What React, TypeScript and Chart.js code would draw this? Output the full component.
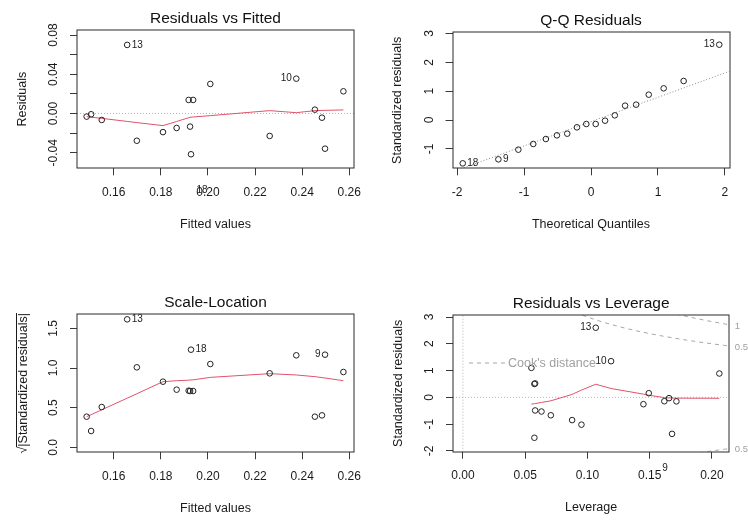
import React, { useEffect, useRef } from 'react';
import { Chart, registerables } from 'chart.js';

Chart.register(...registerables);

const FONT = '"Liberation Sans", Arimo, Arial, sans-serif';
const W = 748;
const H = 522;
const TEXT = '#1a1a1a';
const POINT = '#222222';
const RED = '#DF536B';
const LIGHT_GREY = '#b4b4b4';
const QQ_GREY = '#8c8c8c';
const COOK_GREY = '#a6a6a6';

// ---- observations (ordered by fitted value) ----
const fittedValues = [0.1485, 0.1504, 0.1549, 0.1657, 0.1698, 0.1809, 0.1867, 0.1918, 0.1924, 0.1928, 0.1937, 0.2010, 0.2262, 0.2375, 0.2454, 0.2484, 0.2497, 0.2575];
const residualValues = [-0.0032, -0.0008, -0.0066, 0.0699, -0.0278, -0.0190, -0.0148, 0.0138, -0.0134, -0.0416, 0.0138, 0.0301, -0.0229, 0.0355, 0.0039, -0.0043, -0.0359, 0.0226];
const stdResiduals = [-0.145, -0.03, -0.256, 2.60, -1.02, -0.67, -0.53, 0.50, -0.49, -1.51, 0.52, 1.10, -0.85, 1.35, 0.155, -0.15, -1.364, 0.89];
const sqrtAbsStdResiduals = [0.3865, 0.206, 0.508, 1.6135, 1.0085, 0.8277, 0.7269, 0.714, 0.710, 1.231, 0.710, 1.050, 0.9328, 1.160, 0.3865, 0.403, 1.168, 0.9496];
const leverageValues = [0.1618, 0.1656, 0.1450, 0.1067, 0.0952, 0.0706, 0.0631, 0.0574, 0.0580, 0.0574, 0.0580, 0.0550, 0.0877, 0.1190, 0.1493, 0.1715, 0.1680, 0.2060];
const obsIds = ['', '', '', '13', '', '', '', '', '', '18', '', '', '', '10', '', '', '9', ''];

// ---- smoother (red) lines ----
const smoothResidualsVsFitted = [-0.0032, -0.0038, -0.0050, -0.0081, -0.0093, -0.0124, -0.0082, -0.0043, -0.0039, -0.0038, -0.0036, -0.0022, 0.0029, 0.0008, 0.0029, 0.0031, 0.0032, 0.0036];
const smoothScaleLocation = [0.3865, 0.4115, 0.4732, 0.6196, 0.6755, 0.8277, 0.840, 0.846, 0.848, 0.849, 0.851, 0.882, 0.9286, 0.912, 0.891, 0.879, 0.874, 0.840];
const leverageSorted = [0.0550, 0.0574, 0.0574, 0.0580, 0.0580, 0.0631, 0.0706, 0.0877, 0.0952, 0.1067, 0.1190, 0.1450, 0.1493, 0.1618, 0.1656, 0.1680, 0.1715, 0.2060];
const smoothLeverage = [-0.25, -0.24, -0.24, -0.235, -0.235, -0.19, -0.13, 0.11, 0.27, 0.49, 0.33, 0.12, 0.08, -0.01, -0.02, -0.025, -0.03, -0.035];

// ---- Q-Q ----
const qqTheoretical = [-1.915, -1.383, -1.085, -0.862, -0.674, -0.509, -0.355, -0.210, -0.070, 0.070, 0.210, 0.355, 0.509, 0.674, 0.862, 1.085, 1.383, 1.915];
const qqSample = [-1.503, -1.364, -1.029, -0.832, -0.659, -0.532, -0.474, -0.254, -0.139, -0.139, -0.023, 0.162, 0.497, 0.532, 0.879, 1.098, 1.353, 2.613];
const qqIds = ['18', '9', '', '', '', '', '', '', '', '', '', '', '', '', '', '', '', '13'];
const qqLineX = [-2.068, 2.068];
const qqLineY = [-1.80, 1.69];

// ---- Cook's distance contours ----
const cookHalfUpperX = [0.090, 0.095, 0.100, 0.105, 0.110, 0.120, 0.130, 0.140, 0.150, 0.160, 0.170, 0.180, 0.190, 0.200, 0.210, 0.216];
const cookHalfUpperY = [3.180, 3.086, 3.000, 2.920, 2.844, 2.708, 2.587, 2.478, 2.380, 2.291, 2.210, 2.134, 2.065, 2.000, 1.940, 1.905];
const cookOneUpperX = [0.165, 0.170, 0.175, 0.180, 0.190, 0.200, 0.210, 0.216];
const cookOneUpperY = [3.181, 3.125, 3.071, 3.018, 2.920, 2.828, 2.743, 2.694];
const cookHalfLowerX = [0.190, 0.195, 0.200, 0.205, 0.210, 0.216];
const cookHalfLowerY = [-2.065, -2.032, -2.000, -1.969, -1.940, -1.905];

// ---- axes ----
const fittedRange: [number, number] = [0.1444, 0.2620];
const fittedTicks = [0.16, 0.18, 0.20, 0.22, 0.24, 0.26];
const fittedTickLabels = ['0.16', '0.18', '0.20', '0.22', '0.24', '0.26'];
const residRange: [number, number] = [-0.0559, 0.0851];
const residTicks = [-0.04, -0.02, 0, 0.02, 0.04, 0.06, 0.08];
const residTickLabels = ['-0.04', '', '0.00', '', '0.04', '', '0.08'];
const qqXRange: [number, number] = [-2.068, 2.068];
const qqXTicks = [-2, -1, 0, 1, 2];
const qqXTickLabels = ['-2', '-1', '0', '1', '2'];
const qqYRange: [number, number] = [-1.675, 3.042];
const qqYTicks = [-1, 0, 1, 2, 3];
const qqYTickLabels = ['-1', '0', '1', '2', '3'];
const slYRange: [number, number] = [-0.0627, 1.677];
const slYTicks = [0, 0.5, 1.0, 1.5];
const slYTickLabels = ['0.0', '0.5', '1.0', '1.5'];
const levXRange: [number, number] = [-0.008, 0.214];
const levXTicks = [0, 0.05, 0.10, 0.15, 0.20];
const levXTickLabels = ['0.00', '0.05', '0.10', '0.15', '0.20'];
const levYRange: [number, number] = [-2.03, 3.075];
const levYTicks = [-2, -1, 0, 1, 2, 3];
const levYTickLabels = ['-2', '-1', '0', '1', '2', '3'];

type Box = { left: number; top: number; right: number; bottom: number };
type IdLabel = { text: string; x: number; y: number; side: 'left' | 'right' | 'center' };
type PanelSpec = {
  box: Box;
  xRange: [number, number];
  yRange: [number, number];
  xTicks: number[];
  xTickLabels: string[];
  yTicks: number[];
  yTickLabels: string[];
  title: string;
  xTitle: string;
  yTitle: string;
  sqrtTitle?: boolean;
  datasets: any[];
  idLabels: IdLabel[];
  extra?: (chart: any) => void;
};

const pts = (xs: number[], ys: number[]) => xs.map((x, i) => ({ x, y: ys[i] }));

const pointsDS = (xs: number[], ys: number[]) => ({
  data: pts(xs, ys),
  showLine: false,
  pointRadius: 2.8,
  pointHoverRadius: 2.8,
  pointBorderWidth: 1,
  pointBorderColor: POINT,
  pointBackgroundColor: 'rgba(0,0,0,0)',
});

const lineDS = (xs: number[], ys: number[], color: string, dash: number[] = []) => ({
  data: pts(xs, ys),
  showLine: true,
  pointRadius: 0,
  pointHoverRadius: 0,
  borderColor: color,
  borderWidth: 1,
  borderDash: dash,
  fill: false,
  tension: 0,
});

const labelsFrom = (ids: string[], xs: number[], ys: number[], sides: Record<string, 'left' | 'right'>): IdLabel[] =>
  ids
    .map((t, i) => ({ t, i }))
    .filter((o) => o.t && sides[o.t])
    .map((o) => ({ text: o.t, x: xs[o.i], y: ys[o.i], side: sides[o.t] }));

const panels: PanelSpec[] = [
  {
    box: { left: 77, top: 30, right: 354, bottom: 168.3 },
    xRange: fittedRange,
    yRange: residRange,
    xTicks: fittedTicks,
    xTickLabels: fittedTickLabels,
    yTicks: residTicks,
    yTickLabels: residTickLabels,
    title: 'Residuals vs Fitted',
    xTitle: 'Fitted values',
    yTitle: 'Residuals',
    datasets: [
      pointsDS(fittedValues, residualValues),
      lineDS(fittedValues, smoothResidualsVsFitted, RED),
      lineDS(fittedRange, [0, 0], LIGHT_GREY, [1, 2]),
    ],
    idLabels: [
      ...labelsFrom(obsIds, fittedValues, residualValues, { '13': 'right', '10': 'left' }),
      { text: '18', x: 0.1975, y: -0.078, side: 'center' },
    ],
  },
  {
    box: { left: 452.5, top: 32.3, right: 729.5, bottom: 168.3 },
    xRange: qqXRange,
    yRange: qqYRange,
    xTicks: qqXTicks,
    xTickLabels: qqXTickLabels,
    yTicks: qqYTicks,
    yTickLabels: qqYTickLabels,
    title: 'Q-Q Residuals',
    xTitle: 'Theoretical Quantiles',
    yTitle: 'Standardized residuals',
    datasets: [pointsDS(qqTheoretical, qqSample), lineDS(qqLineX, qqLineY, QQ_GREY, [1, 2])],
    idLabels: labelsFrom(qqIds, qqTheoretical, qqSample, { '18': 'right', '9': 'right', '13': 'left' }),
  },
  {
    box: { left: 77, top: 314.3, right: 354, bottom: 452.3 },
    xRange: fittedRange,
    yRange: slYRange,
    xTicks: fittedTicks,
    xTickLabels: fittedTickLabels,
    yTicks: slYTicks,
    yTickLabels: slYTickLabels,
    title: 'Scale-Location',
    xTitle: 'Fitted values',
    yTitle: 'Standardized residuals',
    sqrtTitle: true,
    datasets: [pointsDS(fittedValues, sqrtAbsStdResiduals), lineDS(fittedValues, smoothScaleLocation, RED)],
    idLabels: labelsFrom(obsIds, fittedValues, sqrtAbsStdResiduals, { '13': 'right', '18': 'right', '9': 'left' }),
  },
  {
    box: { left: 453, top: 315, right: 729.3, bottom: 451.7 },
    xRange: levXRange,
    yRange: levYRange,
    xTicks: levXTicks,
    xTickLabels: levXTickLabels,
    yTicks: levYTicks,
    yTickLabels: levYTickLabels,
    title: 'Residuals vs Leverage',
    xTitle: 'Leverage',
    yTitle: 'Standardized residuals',
    datasets: [
      pointsDS(leverageValues, stdResiduals),
      lineDS(leverageSorted, smoothLeverage, RED),
      lineDS(levXRange, [0, 0], LIGHT_GREY, [1, 2]),
      lineDS([0, 0], levYRange, LIGHT_GREY, [1, 2]),
      lineDS(cookHalfUpperX, cookHalfUpperY, COOK_GREY, [4, 4]),
      lineDS(cookOneUpperX, cookOneUpperY, COOK_GREY, [4, 4]),
      lineDS(cookHalfLowerX, cookHalfLowerY, COOK_GREY, [4, 4]),
    ],
    idLabels: [
      ...labelsFrom(obsIds, leverageValues, stdResiduals, { '13': 'left', '10': 'left' }),
      { text: '9', x: 0.1623, y: -2.634, side: 'center' },
    ],
    extra: (chart: any) => {
      const ctx = chart.ctx as CanvasRenderingContext2D;
      const a = chart.chartArea;
      const ys = chart.scales.y;
      // legend
      ctx.save();
      ctx.strokeStyle = COOK_GREY;
      ctx.lineWidth = 1;
      ctx.setLineDash([4, 4]);
      ctx.beginPath();
      ctx.moveTo(a.left + 16, a.top + 48);
      ctx.lineTo(a.left + 52, a.top + 48);
      ctx.stroke();
      ctx.setLineDash([]);
      ctx.fillStyle = '#a0a0a0';
      ctx.font = `12.5px ${FONT}`;
      ctx.textAlign = 'left';
      ctx.textBaseline = 'middle';
      ctx.fillText("Cook's distance", a.left + 55, a.top + 48.5);
      // contour labels
      ctx.font = `9.5px ${FONT}`;
      const ends: [string, number][] = [
        ['1', cookOneUpperY[cookOneUpperY.length - 1]],
        ['0.5', cookHalfUpperY[cookHalfUpperY.length - 1]],
        ['0.5', cookHalfLowerY[cookHalfLowerY.length - 1]],
      ];
      ends.forEach(([t, v]) => ctx.fillText(t, a.right + 5.5, ys.getPixelForValue(v) + 1));
      ctx.restore();
    },
  },
];

function decorPlugin(spec: PanelSpec) {
  return {
    id: 'rDecor',
    afterDraw(chart: any) {
      const ctx = chart.ctx as CanvasRenderingContext2D;
      const xs = chart.scales.x;
      const ys = chart.scales.y;
      const a = chart.chartArea;
      ctx.save();
      // box
      ctx.strokeStyle = '#2a2a2a';
      ctx.lineWidth = 1;
      const l = Math.round(a.left), t = Math.round(a.top), r = Math.round(a.right), b = Math.round(a.bottom);
      ctx.strokeRect(l, t, r - l, b - t);

      ctx.fillStyle = TEXT;
      ctx.font = `12px ${FONT}`;
      ctx.textAlign = 'center';
      ctx.textBaseline = 'middle';
      spec.xTicks.forEach((v, i) => {
        const lab = spec.xTickLabels[i];
        if (lab) ctx.fillText(lab, xs.getPixelForValue(v), a.bottom + 24);
      });
      spec.yTicks.forEach((v, i) => {
        const lab = spec.yTickLabels[i];
        if (!lab) return;
        ctx.save();
        ctx.translate(a.left - 23, ys.getPixelForValue(v));
        ctx.rotate(-Math.PI / 2);
        ctx.fillText(lab, 0, 0);
        ctx.restore();
      });

      // main title
      ctx.font = `15.5px ${FONT}`;
      ctx.fillStyle = '#111';
      ctx.fillText(spec.title, (a.left + a.right) / 2, a.top - 11.5);

      // axis titles
      ctx.fillStyle = TEXT;
      ctx.font = `12.5px ${FONT}`;
      ctx.fillText(spec.xTitle, (a.left + a.right) / 2, a.bottom + 56);
      ctx.save();
      ctx.translate(a.left - 54.5, (a.top + a.bottom) / 2);
      ctx.rotate(-Math.PI / 2);
      if (spec.sqrtTitle) {
        const rad = '\u221A';
        const body = '|' + spec.yTitle + '|';
        ctx.textAlign = 'left';
        ctx.textBaseline = 'alphabetic';
        const wr = ctx.measureText(rad).width;
        const wb = ctx.measureText(body).width;
        const x0 = -(wr + wb) / 2;
        const base = 4.5;
        ctx.fillText(rad, x0, base);
        ctx.fillText(body, x0 + wr, base);
        ctx.strokeStyle = TEXT;
        ctx.lineWidth = 1;
        ctx.beginPath();
        ctx.moveTo(x0 + wr - 0.5, base - 10.5);
        ctx.lineTo(x0 + wr + wb, base - 10.5);
        ctx.stroke();
      } else {
        ctx.fillText(spec.yTitle, 0, 0);
      }
      ctx.restore();

      // id labels
      ctx.font = `10px ${FONT}`;
      ctx.fillStyle = '#222';
      ctx.textBaseline = 'middle';
      spec.idLabels.forEach((lb) => {
        const px = xs.getPixelForValue(lb.x);
        const py = ys.getPixelForValue(lb.y);
        if (lb.side === 'right') {
          ctx.textAlign = 'left';
          ctx.fillText(lb.text, px + 4.5, py);
        } else if (lb.side === 'left') {
          ctx.textAlign = 'right';
          ctx.fillText(lb.text, px - 4.5, py);
        } else {
          ctx.textAlign = 'center';
          ctx.fillText(lb.text, px, py);
        }
      });
      ctx.restore();
      if (spec.extra) spec.extra(chart);
    },
  };
}

function axisOptions(range: [number, number], ticks: number[], position: 'bottom' | 'left') {
  return {
    type: 'linear' as const,
    position,
    min: range[0],
    max: range[1],
    ticks: { display: false },
    border: { display: false },
    grid: {
      display: true,
      drawOnChartArea: false,
      drawTicks: true,
      tickLength: 7,
      color: '#3a3a3a',
      lineWidth: 1,
    },
    afterBuildTicks: (s: any) => {
      s.ticks = ticks.map((v) => ({ value: v }));
    },
    afterFit: (s: any) => {
      if (position === 'bottom') s.height = 0;
      else s.width = 0;
    },
  };
}

function Panel({ spec }: { spec: PanelSpec }) {
  const ref = useRef<HTMLCanvasElement | null>(null);
  useEffect(() => {
    if (!ref.current) return;
    const b = spec.box;
    const chart = new Chart(ref.current, {
      type: 'scatter',
      data: { datasets: spec.datasets },
      options: {
        animation: false,
        responsive: false,
        devicePixelRatio: 1,
        events: [],
        layout: { padding: { left: b.left, top: b.top, right: W - b.right, bottom: H - b.bottom } },
        plugins: { legend: { display: false }, tooltip: { enabled: false }, title: { display: false } },
        scales: {
          x: axisOptions(spec.xRange, spec.xTicks, 'bottom'),
          y: axisOptions(spec.yRange, spec.yTicks, 'left'),
        },
      } as any,
      plugins: [decorPlugin(spec) as any],
    });
    return () => chart.destroy();
  }, [spec]);
  return (
    <canvas
      ref={ref}
      width={W}
      height={H}
      style={{ position: 'absolute', left: 0, top: 0, width: W, height: H }}
    />
  );
}

export default function App() {
  return (
    <div style={{ position: 'fixed', left: 0, top: 0, width: W, height: H, background: '#ffffff', overflow: 'hidden' }}>
      {panels.map((p, i) => (
        <Panel key={i} spec={p} />
      ))}
    </div>
  );
}
